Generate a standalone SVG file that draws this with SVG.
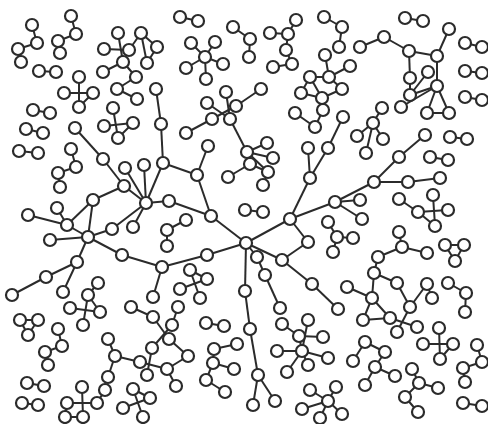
<svg xmlns="http://www.w3.org/2000/svg" width="488" height="424" viewBox="0 0 488 424">
<style>
.e line{stroke:#2b2b2b;stroke-width:2}
.n circle{fill:#fff;stroke:#2b2b2b;stroke-width:2.2}
</style>
<rect width="488" height="424" fill="#fff"/>
<g id="edges" class="e">
<line x1="32" y1="25" x2="37" y2="43"/><line x1="37" y1="43" x2="18" y2="49"/><line x1="18" y1="49" x2="21" y2="62"/>
<line x1="71" y1="16" x2="76" y2="34"/><line x1="76" y1="34" x2="58" y2="41"/><line x1="58" y1="41" x2="60" y2="53"/>
<line x1="39" y1="71" x2="56" y2="72"/>
<line x1="79" y1="77" x2="79" y2="107"/><line x1="64" y1="93" x2="93" y2="93"/><line x1="93" y1="93" x2="79" y2="107"/>
<line x1="33" y1="110" x2="50" y2="113"/><line x1="26" y1="129" x2="43" y2="133"/>
<line x1="118" y1="33" x2="123" y2="62"/><line x1="104" y1="49" x2="129" y2="50"/><line x1="129" y1="50" x2="141" y2="33"/><line x1="141" y1="33" x2="157" y2="47"/><line x1="141" y1="33" x2="147" y2="63"/><line x1="157" y1="47" x2="147" y2="63"/><line x1="123" y1="62" x2="103" y2="72"/><line x1="123" y1="62" x2="136" y2="77"/><line x1="136" y1="77" x2="117" y2="89"/><line x1="117" y1="89" x2="137" y2="99"/>
<line x1="113" y1="108" x2="118" y2="138"/><line x1="104" y1="126" x2="133" y2="123"/><line x1="133" y1="123" x2="118" y2="138"/>
<line x1="19" y1="151" x2="38" y2="153"/>
<line x1="71" y1="149" x2="76" y2="167"/><line x1="76" y1="167" x2="58" y2="173"/><line x1="58" y1="173" x2="60" y2="187"/>
<line x1="180" y1="17" x2="198" y2="21"/>
<line x1="205" y1="57" x2="191" y2="43"/><line x1="205" y1="57" x2="215" y2="42"/><line x1="205" y1="57" x2="223" y2="64"/><line x1="205" y1="57" x2="206" y2="79"/><line x1="205" y1="57" x2="186" y2="68"/>
<line x1="233" y1="27" x2="250" y2="39"/><line x1="250" y1="39" x2="249" y2="57"/>
<line x1="296" y1="20" x2="288" y2="34"/><line x1="270" y1="33" x2="288" y2="34"/><line x1="288" y1="34" x2="286" y2="50"/><line x1="286" y1="50" x2="292" y2="64"/><line x1="292" y1="64" x2="273" y2="67"/>
<line x1="324" y1="17" x2="342" y2="27"/><line x1="342" y1="27" x2="339" y2="47"/>
<line x1="360" y1="47" x2="384" y2="37"/><line x1="384" y1="37" x2="409" y2="51"/><line x1="409" y1="51" x2="437" y2="56"/><line x1="437" y1="56" x2="449" y2="29"/><line x1="409" y1="51" x2="410" y2="78"/><line x1="437" y1="56" x2="437" y2="86"/><line x1="410" y1="78" x2="410" y2="95"/><line x1="428" y1="72" x2="410" y2="95"/><line x1="410" y1="95" x2="437" y2="86"/><line x1="401" y1="107" x2="437" y2="86"/><line x1="437" y1="86" x2="427" y2="113"/><line x1="437" y1="86" x2="449" y2="113"/><line x1="427" y1="113" x2="449" y2="113"/>
<line x1="405" y1="18" x2="423" y2="21"/>
<line x1="465" y1="43" x2="482" y2="47"/><line x1="465" y1="71" x2="482" y2="73"/><line x1="465" y1="97" x2="482" y2="100"/><line x1="450" y1="137" x2="467" y2="139"/>
<line x1="382" y1="108" x2="373" y2="123"/><line x1="373" y1="123" x2="383" y2="139"/><line x1="373" y1="123" x2="357" y2="136"/><line x1="373" y1="123" x2="366" y2="153"/>
<line x1="325" y1="55" x2="329" y2="77"/><line x1="310" y1="77" x2="329" y2="77"/><line x1="329" y1="77" x2="350" y2="66"/><line x1="310" y1="77" x2="301" y2="93"/><line x1="310" y1="77" x2="322" y2="98"/><line x1="329" y1="77" x2="342" y2="89"/><line x1="301" y1="93" x2="322" y2="98"/><line x1="322" y1="98" x2="342" y2="89"/><line x1="322" y1="98" x2="323" y2="110"/><line x1="323" y1="110" x2="315" y2="127"/><line x1="315" y1="127" x2="295" y2="113"/>
<line x1="226" y1="92" x2="230" y2="119"/><line x1="207" y1="103" x2="230" y2="119"/><line x1="236" y1="106" x2="212" y2="119"/><line x1="212" y1="119" x2="186" y2="133"/><line x1="236" y1="106" x2="261" y2="89"/><line x1="230" y1="119" x2="247" y2="152"/>
<line x1="228" y1="177" x2="250" y2="164"/><line x1="247" y1="152" x2="267" y2="143"/><line x1="247" y1="152" x2="273" y2="158"/><line x1="250" y1="164" x2="268" y2="172"/><line x1="247" y1="152" x2="268" y2="172"/><line x1="268" y1="172" x2="263" y2="185"/>
<line x1="75" y1="128" x2="103" y2="159"/><line x1="103" y1="159" x2="124" y2="186"/><line x1="124" y1="186" x2="93" y2="200"/><line x1="93" y1="200" x2="67" y2="225"/><line x1="57" y1="208" x2="67" y2="225"/><line x1="28" y1="215" x2="67" y2="225"/><line x1="67" y1="225" x2="88" y2="237"/><line x1="93" y1="200" x2="88" y2="237"/><line x1="50" y1="240" x2="88" y2="237"/><line x1="88" y1="237" x2="112" y2="229"/><line x1="112" y1="229" x2="146" y2="203"/><line x1="88" y1="237" x2="122" y2="255"/><line x1="88" y1="237" x2="77" y2="262"/><line x1="77" y1="262" x2="46" y2="277"/><line x1="46" y1="277" x2="12" y2="295"/><line x1="77" y1="262" x2="63" y2="292"/>
<line x1="124" y1="186" x2="146" y2="203"/><line x1="125" y1="168" x2="146" y2="203"/><line x1="144" y1="165" x2="146" y2="203"/><line x1="146" y1="203" x2="169" y2="201"/><line x1="146" y1="203" x2="133" y2="227"/><line x1="146" y1="203" x2="163" y2="163"/><line x1="163" y1="163" x2="161" y2="124"/><line x1="161" y1="124" x2="156" y2="89"/><line x1="163" y1="163" x2="197" y2="175"/><line x1="197" y1="175" x2="208" y2="146"/><line x1="197" y1="175" x2="211" y2="216"/><line x1="169" y1="201" x2="211" y2="216"/><line x1="211" y1="216" x2="246" y2="243"/>
<line x1="122" y1="255" x2="162" y2="267"/><line x1="162" y1="267" x2="207" y2="255"/><line x1="207" y1="255" x2="246" y2="243"/><line x1="162" y1="267" x2="153" y2="297"/>
<line x1="246" y1="243" x2="290" y2="219"/><line x1="290" y1="219" x2="310" y2="178"/><line x1="310" y1="178" x2="308" y2="148"/><line x1="310" y1="178" x2="328" y2="148"/><line x1="328" y1="148" x2="343" y2="117"/><line x1="290" y1="219" x2="335" y2="202"/><line x1="335" y1="202" x2="360" y2="200"/><line x1="335" y1="202" x2="362" y2="219"/><line x1="335" y1="202" x2="374" y2="182"/><line x1="374" y1="182" x2="399" y2="157"/><line x1="399" y1="157" x2="425" y2="135"/><line x1="374" y1="182" x2="408" y2="182"/><line x1="408" y1="182" x2="440" y2="178"/>
<line x1="290" y1="219" x2="308" y2="242"/><line x1="308" y1="242" x2="282" y2="260"/><line x1="246" y1="243" x2="282" y2="260"/><line x1="282" y1="260" x2="312" y2="284"/><line x1="312" y1="284" x2="338" y2="309"/><line x1="246" y1="243" x2="257" y2="257"/><line x1="257" y1="257" x2="265" y2="275"/><line x1="265" y1="275" x2="280" y2="308"/><line x1="246" y1="243" x2="245" y2="291"/><line x1="245" y1="291" x2="250" y2="329"/><line x1="250" y1="329" x2="258" y2="375"/><line x1="258" y1="375" x2="253" y2="405"/><line x1="258" y1="375" x2="275" y2="401"/>
<line x1="245" y1="210" x2="263" y2="212"/>
<line x1="186" y1="220" x2="167" y2="230"/><line x1="167" y1="230" x2="167" y2="246"/>
<line x1="190" y1="270" x2="200" y2="298"/><line x1="180" y1="289" x2="207" y2="279"/><line x1="190" y1="270" x2="207" y2="279"/>
<line x1="328" y1="222" x2="337" y2="237"/><line x1="337" y1="237" x2="353" y2="238"/><line x1="337" y1="237" x2="333" y2="252"/>
<line x1="399" y1="199" x2="418" y2="212"/><line x1="418" y1="212" x2="435" y2="226"/><line x1="433" y1="195" x2="435" y2="226"/><line x1="418" y1="212" x2="448" y2="210"/>
<line x1="430" y1="157" x2="448" y2="160"/>
<line x1="399" y1="232" x2="402" y2="247"/><line x1="402" y1="247" x2="427" y2="253"/><line x1="402" y1="247" x2="378" y2="257"/><line x1="378" y1="257" x2="374" y2="273"/><line x1="374" y1="273" x2="397" y2="283"/><line x1="374" y1="273" x2="372" y2="298"/><line x1="372" y1="298" x2="363" y2="320"/><line x1="372" y1="298" x2="390" y2="318"/><line x1="363" y1="320" x2="390" y2="318"/><line x1="347" y1="287" x2="372" y2="298"/><line x1="397" y1="283" x2="410" y2="307"/><line x1="427" y1="284" x2="410" y2="307"/><line x1="432" y1="298" x2="427" y2="284"/><line x1="410" y1="307" x2="397" y2="332"/><line x1="390" y1="318" x2="417" y2="327"/>
<line x1="445" y1="245" x2="464" y2="245"/><line x1="464" y1="245" x2="455" y2="261"/><line x1="455" y1="261" x2="445" y2="245"/>
<line x1="448" y1="283" x2="466" y2="293"/><line x1="466" y1="293" x2="465" y2="312"/>
<line x1="439" y1="328" x2="440" y2="359"/><line x1="423" y1="344" x2="453" y2="344"/><line x1="453" y1="344" x2="440" y2="359"/>
<line x1="353" y1="361" x2="365" y2="342"/><line x1="365" y1="342" x2="385" y2="352"/><line x1="385" y1="352" x2="375" y2="367"/><line x1="375" y1="367" x2="395" y2="376"/><line x1="375" y1="367" x2="365" y2="385"/>
<line x1="412" y1="369" x2="419" y2="383"/><line x1="419" y1="383" x2="438" y2="388"/><line x1="419" y1="383" x2="405" y2="397"/><line x1="405" y1="397" x2="418" y2="412"/>
<line x1="477" y1="345" x2="482" y2="362"/><line x1="482" y1="362" x2="463" y2="368"/><line x1="463" y1="368" x2="465" y2="382"/>
<line x1="463" y1="403" x2="482" y2="406"/>
<line x1="302" y1="351" x2="277" y2="351"/><line x1="302" y1="351" x2="328" y2="358"/><line x1="302" y1="351" x2="287" y2="372"/><line x1="302" y1="351" x2="308" y2="365"/><line x1="302" y1="351" x2="299" y2="336"/><line x1="302" y1="351" x2="308" y2="320"/><line x1="299" y1="336" x2="282" y2="324"/><line x1="299" y1="336" x2="323" y2="337"/>
<line x1="310" y1="390" x2="328" y2="401"/><line x1="336" y1="387" x2="328" y2="401"/><line x1="302" y1="409" x2="328" y2="401"/><line x1="328" y1="401" x2="320" y2="418"/><line x1="328" y1="401" x2="342" y2="414"/>
<line x1="20" y1="320" x2="38" y2="320"/><line x1="38" y1="320" x2="28" y2="335"/><line x1="28" y1="335" x2="20" y2="320"/>
<line x1="58" y1="329" x2="62" y2="346"/><line x1="62" y1="346" x2="45" y2="352"/><line x1="45" y1="352" x2="48" y2="365"/>
<line x1="98" y1="283" x2="88" y2="295"/><line x1="88" y1="295" x2="83" y2="325"/><line x1="70" y1="308" x2="100" y2="312"/><line x1="88" y1="295" x2="100" y2="312"/>
<line x1="108" y1="339" x2="115" y2="356"/><line x1="115" y1="356" x2="108" y2="377"/><line x1="115" y1="356" x2="140" y2="362"/>
<line x1="131" y1="307" x2="153" y2="317"/><line x1="153" y1="317" x2="169" y2="339"/><line x1="178" y1="307" x2="172" y2="325"/><line x1="172" y1="325" x2="152" y2="348"/><line x1="169" y1="339" x2="188" y2="356"/><line x1="188" y1="356" x2="167" y2="369"/><line x1="140" y1="362" x2="167" y2="369"/><line x1="152" y1="348" x2="147" y2="375"/><line x1="167" y1="369" x2="176" y2="386"/>
<line x1="27" y1="383" x2="44" y2="386"/><line x1="22" y1="403" x2="38" y2="405"/>
<line x1="82" y1="387" x2="83" y2="417"/><line x1="67" y1="403" x2="97" y2="403"/><line x1="97" y1="403" x2="105" y2="390"/><line x1="67" y1="403" x2="65" y2="417"/><line x1="65" y1="417" x2="83" y2="417"/>
<line x1="133" y1="389" x2="143" y2="417"/><line x1="123" y1="408" x2="150" y2="398"/><line x1="133" y1="389" x2="150" y2="398"/>
<line x1="206" y1="323" x2="224" y2="326"/>
<line x1="237" y1="344" x2="214" y2="349"/><line x1="214" y1="349" x2="213" y2="363"/><line x1="213" y1="363" x2="234" y2="369"/><line x1="213" y1="363" x2="206" y2="380"/><line x1="206" y1="380" x2="225" y2="392"/>
</g>
<g id="nodes" class="n">
<g id="a1"><circle cx="32" cy="25" r="6"/></g><g id="a2"><circle cx="37" cy="43" r="6"/></g><g id="a3"><circle cx="18" cy="49" r="6"/></g><g id="a4"><circle cx="21" cy="62" r="6"/></g>
<g id="b1"><circle cx="71" cy="16" r="6"/></g><g id="b2"><circle cx="76" cy="34" r="6"/></g><g id="b3"><circle cx="58" cy="41" r="6"/></g><g id="b4"><circle cx="60" cy="53" r="6"/></g>
<g id="c1"><circle cx="39" cy="71" r="6"/></g><g id="c2"><circle cx="56" cy="72" r="6"/></g>
<g id="d1"><circle cx="79" cy="77" r="6"/></g><g id="d2"><circle cx="64" cy="93" r="6"/></g><g id="d3"><circle cx="93" cy="93" r="6"/></g><g id="d4"><circle cx="79" cy="107" r="6"/></g>
<g id="e1"><circle cx="33" cy="110" r="6"/></g><g id="e2"><circle cx="50" cy="113" r="6"/></g>
<g id="f1"><circle cx="26" cy="129" r="6"/></g><g id="f2"><circle cx="43" cy="133" r="6"/></g>
<g id="g1"><circle cx="118" cy="33" r="6"/></g><g id="g2"><circle cx="141" cy="33" r="6"/></g><g id="g3"><circle cx="104" cy="49" r="6"/></g><g id="g4"><circle cx="129" cy="50" r="6"/></g><g id="g5"><circle cx="157" cy="47" r="6"/></g><g id="g6"><circle cx="147" cy="63" r="6"/></g><g id="g7"><circle cx="123" cy="62" r="6"/></g><g id="g8"><circle cx="103" cy="72" r="6"/></g><g id="g9"><circle cx="136" cy="77" r="6"/></g><g id="g10"><circle cx="117" cy="89" r="6"/></g><g id="g11"><circle cx="137" cy="99" r="6"/></g>
<g id="g12"><circle cx="113" cy="108" r="6"/></g><g id="g13"><circle cx="104" cy="126" r="6"/></g><g id="g14"><circle cx="133" cy="123" r="6"/></g><g id="g15"><circle cx="118" cy="138" r="6"/></g>
<g id="h1"><circle cx="19" cy="151" r="6"/></g><g id="h2"><circle cx="38" cy="153" r="6"/></g>
<g id="h3"><circle cx="71" cy="149" r="6"/></g><g id="h4"><circle cx="76" cy="167" r="6"/></g><g id="h5"><circle cx="58" cy="173" r="6"/></g><g id="h6"><circle cx="60" cy="187" r="6"/></g>
<g id="i1"><circle cx="180" cy="17" r="6"/></g><g id="i2"><circle cx="198" cy="21" r="6"/></g>
<g id="i3"><circle cx="205" cy="57" r="6"/></g><g id="i4"><circle cx="191" cy="43" r="6"/></g><g id="i5"><circle cx="215" cy="42" r="6"/></g><g id="i6"><circle cx="223" cy="64" r="6"/></g><g id="i7"><circle cx="206" cy="79" r="6"/></g><g id="i8"><circle cx="186" cy="68" r="6"/></g>
<g id="j1"><circle cx="233" cy="27" r="6"/></g><g id="j2"><circle cx="250" cy="39" r="6"/></g><g id="j3"><circle cx="249" cy="57" r="6"/></g>
<g id="k1"><circle cx="296" cy="20" r="6"/></g><g id="k2"><circle cx="288" cy="34" r="6"/></g><g id="k3"><circle cx="270" cy="33" r="6"/></g><g id="k4"><circle cx="286" cy="50" r="6"/></g><g id="k5"><circle cx="292" cy="64" r="6"/></g><g id="k6"><circle cx="273" cy="67" r="6"/></g>
<g id="l1"><circle cx="324" cy="17" r="6"/></g><g id="l2"><circle cx="342" cy="27" r="6"/></g><g id="l3"><circle cx="339" cy="47" r="6"/></g>
<g id="m1"><circle cx="360" cy="47" r="6"/></g><g id="m2"><circle cx="384" cy="37" r="6"/></g><g id="m3"><circle cx="409" cy="51" r="6"/></g><g id="m4"><circle cx="437" cy="56" r="6"/></g><g id="m5"><circle cx="449" cy="29" r="6"/></g><g id="m6"><circle cx="410" cy="78" r="6"/></g><g id="m7"><circle cx="428" cy="72" r="6"/></g><g id="m8"><circle cx="437" cy="86" r="6"/></g><g id="m9"><circle cx="410" cy="95" r="6"/></g><g id="m10"><circle cx="401" cy="107" r="6"/></g><g id="m11"><circle cx="427" cy="113" r="6"/></g><g id="m12"><circle cx="449" cy="113" r="6"/></g>
<g id="n1"><circle cx="405" cy="18" r="6"/></g><g id="n2"><circle cx="423" cy="21" r="6"/></g>
<g id="n3"><circle cx="465" cy="43" r="6"/></g><g id="n4"><circle cx="482" cy="47" r="6"/></g><g id="n5"><circle cx="465" cy="71" r="6"/></g><g id="n6"><circle cx="482" cy="73" r="6"/></g><g id="n7"><circle cx="465" cy="97" r="6"/></g><g id="n8"><circle cx="482" cy="100" r="6"/></g><g id="n9"><circle cx="450" cy="137" r="6"/></g><g id="n10"><circle cx="467" cy="139" r="6"/></g>
<g id="o1"><circle cx="382" cy="108" r="6"/></g><g id="o2"><circle cx="373" cy="123" r="6"/></g><g id="o3"><circle cx="383" cy="139" r="6"/></g><g id="o4"><circle cx="357" cy="136" r="6"/></g><g id="o5"><circle cx="366" cy="153" r="6"/></g>
<g id="p1"><circle cx="325" cy="55" r="6"/></g><g id="p2"><circle cx="310" cy="77" r="6"/></g><g id="p3"><circle cx="329" cy="77" r="6"/></g><g id="p4"><circle cx="350" cy="66" r="6"/></g><g id="p5"><circle cx="301" cy="93" r="6"/></g><g id="p6"><circle cx="322" cy="98" r="6"/></g><g id="p7"><circle cx="342" cy="89" r="6"/></g><g id="p8"><circle cx="323" cy="110" r="6"/></g><g id="p9"><circle cx="315" cy="127" r="6"/></g><g id="p10"><circle cx="295" cy="113" r="6"/></g>
<g id="u1"><circle cx="226" cy="92" r="6"/></g><g id="u2"><circle cx="207" cy="103" r="6"/></g><g id="u3"><circle cx="236" cy="106" r="6"/></g><g id="u4"><circle cx="212" cy="119" r="6"/></g><g id="u5"><circle cx="230" cy="119" r="6"/></g><g id="u6"><circle cx="186" cy="133" r="6"/></g><g id="u7"><circle cx="261" cy="89" r="6"/></g>
<g id="s0"><circle cx="228" cy="177" r="6"/></g><g id="s1"><circle cx="247" cy="152" r="6"/></g><g id="s2"><circle cx="267" cy="143" r="6"/></g><g id="s3"><circle cx="273" cy="158" r="6"/></g><g id="s4"><circle cx="250" cy="164" r="6"/></g><g id="s5"><circle cx="268" cy="172" r="6"/></g><g id="s6"><circle cx="263" cy="185" r="6"/></g>
<g id="t1"><circle cx="75" cy="128" r="6"/></g><g id="t2"><circle cx="103" cy="159" r="6"/></g><g id="t3"><circle cx="124" cy="186" r="6"/></g><g id="t4"><circle cx="93" cy="200" r="6"/></g><g id="t5"><circle cx="67" cy="225" r="6"/></g><g id="t6"><circle cx="57" cy="208" r="6"/></g><g id="t7"><circle cx="28" cy="215" r="6"/></g><g id="t8"><circle cx="88" cy="237" r="6"/></g><g id="t9"><circle cx="50" cy="240" r="6"/></g><g id="t10"><circle cx="112" cy="229" r="6"/></g><g id="t11"><circle cx="122" cy="255" r="6"/></g><g id="t12"><circle cx="77" cy="262" r="6"/></g><g id="t13"><circle cx="46" cy="277" r="6"/></g><g id="t14"><circle cx="12" cy="295" r="6"/></g><g id="t15"><circle cx="63" cy="292" r="6"/></g>
<g id="t16"><circle cx="125" cy="168" r="6"/></g><g id="t17"><circle cx="144" cy="165" r="6"/></g><g id="t18"><circle cx="146" cy="203" r="6"/></g><g id="t19"><circle cx="169" cy="201" r="6"/></g><g id="t20"><circle cx="133" cy="227" r="6"/></g><g id="t21"><circle cx="163" cy="163" r="6"/></g><g id="t22"><circle cx="161" cy="124" r="6"/></g><g id="t23"><circle cx="156" cy="89" r="6"/></g><g id="t24"><circle cx="197" cy="175" r="6"/></g><g id="t25"><circle cx="208" cy="146" r="6"/></g><g id="t26"><circle cx="211" cy="216" r="6"/></g><g id="t27"><circle cx="246" cy="243" r="6"/></g><g id="t28"><circle cx="162" cy="267" r="6"/></g><g id="t29"><circle cx="207" cy="255" r="6"/></g><g id="t30"><circle cx="153" cy="297" r="6"/></g>
<g id="t31"><circle cx="290" cy="219" r="6"/></g><g id="t32"><circle cx="310" cy="178" r="6"/></g><g id="t33"><circle cx="308" cy="148" r="6"/></g><g id="t34"><circle cx="328" cy="148" r="6"/></g><g id="t35"><circle cx="343" cy="117" r="6"/></g><g id="t36"><circle cx="335" cy="202" r="6"/></g><g id="t37"><circle cx="360" cy="200" r="6"/></g><g id="t38"><circle cx="362" cy="219" r="6"/></g><g id="t39"><circle cx="374" cy="182" r="6"/></g><g id="t40"><circle cx="399" cy="157" r="6"/></g><g id="t41"><circle cx="425" cy="135" r="6"/></g><g id="t42"><circle cx="408" cy="182" r="6"/></g><g id="t43"><circle cx="440" cy="178" r="6"/></g><g id="t44"><circle cx="308" cy="242" r="6"/></g><g id="t45"><circle cx="282" cy="260" r="6"/></g><g id="t46"><circle cx="312" cy="284" r="6"/></g><g id="t47"><circle cx="338" cy="309" r="6"/></g><g id="t48"><circle cx="257" cy="257" r="6"/></g><g id="t49"><circle cx="265" cy="275" r="6"/></g><g id="t50"><circle cx="280" cy="308" r="6"/></g><g id="t51"><circle cx="245" cy="291" r="6"/></g><g id="t52"><circle cx="250" cy="329" r="6"/></g><g id="t53"><circle cx="258" cy="375" r="6"/></g><g id="t54"><circle cx="253" cy="405" r="6"/></g><g id="t55"><circle cx="275" cy="401" r="6"/></g>
<g id="v1"><circle cx="245" cy="210" r="6"/></g><g id="v2"><circle cx="263" cy="212" r="6"/></g>
<g id="v3"><circle cx="186" cy="220" r="6"/></g><g id="v4"><circle cx="167" cy="230" r="6"/></g><g id="v5"><circle cx="167" cy="246" r="6"/></g>
<g id="x1"><circle cx="190" cy="270" r="6"/></g><g id="x2"><circle cx="180" cy="289" r="6"/></g><g id="x3"><circle cx="207" cy="279" r="6"/></g><g id="x4"><circle cx="200" cy="298" r="6"/></g>
<g id="x5"><circle cx="328" cy="222" r="6"/></g><g id="x6"><circle cx="337" cy="237" r="6"/></g><g id="x7"><circle cx="353" cy="238" r="6"/></g><g id="x8"><circle cx="333" cy="252" r="6"/></g>
<g id="y1"><circle cx="399" cy="199" r="6"/></g><g id="y2"><circle cx="418" cy="212" r="6"/></g><g id="y3"><circle cx="433" cy="195" r="6"/></g><g id="y4"><circle cx="448" cy="210" r="6"/></g><g id="y5"><circle cx="435" cy="226" r="6"/></g>
<g id="y6"><circle cx="430" cy="157" r="6"/></g><g id="y7"><circle cx="448" cy="160" r="6"/></g>
<g id="r1"><circle cx="399" cy="232" r="6"/></g><g id="r2"><circle cx="402" cy="247" r="6"/></g><g id="r3"><circle cx="427" cy="253" r="6"/></g><g id="r4"><circle cx="378" cy="257" r="6"/></g><g id="r5"><circle cx="374" cy="273" r="6"/></g><g id="r6"><circle cx="397" cy="283" r="6"/></g><g id="r7"><circle cx="372" cy="298" r="6"/></g><g id="r8"><circle cx="363" cy="320" r="6"/></g><g id="r9"><circle cx="390" cy="318" r="6"/></g><g id="r10"><circle cx="347" cy="287" r="6"/></g><g id="r11"><circle cx="410" cy="307" r="6"/></g><g id="r12"><circle cx="427" cy="284" r="6"/></g><g id="r13"><circle cx="432" cy="298" r="6"/></g><g id="r14"><circle cx="397" cy="332" r="6"/></g><g id="r15"><circle cx="417" cy="327" r="6"/></g>
<g id="r16"><circle cx="445" cy="245" r="6"/></g><g id="r17"><circle cx="464" cy="245" r="6"/></g><g id="r18"><circle cx="455" cy="261" r="6"/></g>
<g id="r19"><circle cx="448" cy="283" r="6"/></g><g id="r20"><circle cx="466" cy="293" r="6"/></g><g id="r21"><circle cx="465" cy="312" r="6"/></g>
<g id="r22"><circle cx="439" cy="328" r="6"/></g><g id="r23"><circle cx="423" cy="344" r="6"/></g><g id="r24"><circle cx="453" cy="344" r="6"/></g><g id="r25"><circle cx="440" cy="359" r="6"/></g>
<g id="q1"><circle cx="353" cy="361" r="6"/></g><g id="q2"><circle cx="365" cy="342" r="6"/></g><g id="q3"><circle cx="385" cy="352" r="6"/></g><g id="q4"><circle cx="375" cy="367" r="6"/></g><g id="q5"><circle cx="395" cy="376" r="6"/></g><g id="q6"><circle cx="365" cy="385" r="6"/></g>
<g id="q7"><circle cx="412" cy="369" r="6"/></g><g id="q8"><circle cx="419" cy="383" r="6"/></g><g id="q9"><circle cx="438" cy="388" r="6"/></g><g id="q10"><circle cx="405" cy="397" r="6"/></g><g id="q11"><circle cx="418" cy="412" r="6"/></g>
<g id="q12"><circle cx="477" cy="345" r="6"/></g><g id="q13"><circle cx="482" cy="362" r="6"/></g><g id="q14"><circle cx="463" cy="368" r="6"/></g><g id="q15"><circle cx="465" cy="382" r="6"/></g>
<g id="q16"><circle cx="463" cy="403" r="6"/></g><g id="q17"><circle cx="482" cy="406" r="6"/></g>
<g id="z1"><circle cx="282" cy="324" r="6"/></g><g id="z2"><circle cx="308" cy="320" r="6"/></g><g id="z3"><circle cx="299" cy="336" r="6"/></g><g id="z4"><circle cx="323" cy="337" r="6"/></g><g id="z5"><circle cx="277" cy="351" r="6"/></g><g id="z6"><circle cx="302" cy="351" r="6"/></g><g id="z7"><circle cx="328" cy="358" r="6"/></g><g id="z8"><circle cx="287" cy="372" r="6"/></g><g id="z9"><circle cx="308" cy="365" r="6"/></g>
<g id="z10"><circle cx="310" cy="390" r="6"/></g><g id="z11"><circle cx="336" cy="387" r="6"/></g><g id="z12"><circle cx="328" cy="401" r="6"/></g><g id="z13"><circle cx="302" cy="409" r="6"/></g><g id="z14"><circle cx="320" cy="418" r="6"/></g><g id="z15"><circle cx="342" cy="414" r="6"/></g>
<g id="w1"><circle cx="20" cy="320" r="6"/></g><g id="w2"><circle cx="38" cy="320" r="6"/></g><g id="w3"><circle cx="28" cy="335" r="6"/></g>
<g id="w4"><circle cx="58" cy="329" r="6"/></g><g id="w5"><circle cx="62" cy="346" r="6"/></g><g id="w6"><circle cx="45" cy="352" r="6"/></g><g id="w7"><circle cx="48" cy="365" r="6"/></g>
<g id="w8"><circle cx="98" cy="283" r="6"/></g><g id="w9"><circle cx="88" cy="295" r="6"/></g><g id="w10"><circle cx="70" cy="308" r="6"/></g><g id="w11"><circle cx="100" cy="312" r="6"/></g><g id="w12"><circle cx="83" cy="325" r="6"/></g>
<g id="w13"><circle cx="108" cy="339" r="6"/></g><g id="w14"><circle cx="115" cy="356" r="6"/></g><g id="w15"><circle cx="108" cy="377" r="6"/></g>
<g id="w16"><circle cx="131" cy="307" r="6"/></g><g id="w17"><circle cx="153" cy="317" r="6"/></g><g id="w18"><circle cx="178" cy="307" r="6"/></g><g id="w19"><circle cx="172" cy="325" r="6"/></g><g id="w20"><circle cx="169" cy="339" r="6"/></g><g id="w21"><circle cx="152" cy="348" r="6"/></g><g id="w22"><circle cx="188" cy="356" r="6"/></g><g id="w23"><circle cx="140" cy="362" r="6"/></g><g id="w24"><circle cx="147" cy="375" r="6"/></g><g id="w25"><circle cx="167" cy="369" r="6"/></g><g id="w26"><circle cx="176" cy="386" r="6"/></g>
<g id="w27"><circle cx="27" cy="383" r="6"/></g><g id="w28"><circle cx="44" cy="386" r="6"/></g><g id="w29"><circle cx="22" cy="403" r="6"/></g><g id="w30"><circle cx="38" cy="405" r="6"/></g>
<g id="w31"><circle cx="82" cy="387" r="6"/></g><g id="w32"><circle cx="67" cy="403" r="6"/></g><g id="w33"><circle cx="97" cy="403" r="6"/></g><g id="w34"><circle cx="83" cy="417" r="6"/></g><g id="w35"><circle cx="65" cy="417" r="6"/></g><g id="w36"><circle cx="105" cy="390" r="6"/></g>
<g id="w37"><circle cx="133" cy="389" r="6"/></g><g id="w38"><circle cx="150" cy="398" r="6"/></g><g id="w39"><circle cx="123" cy="408" r="6"/></g><g id="w40"><circle cx="143" cy="417" r="6"/></g>
<g id="w41"><circle cx="206" cy="323" r="6"/></g><g id="w42"><circle cx="224" cy="326" r="6"/></g>
<g id="w43"><circle cx="237" cy="344" r="6"/></g><g id="w44"><circle cx="214" cy="349" r="6"/></g><g id="w45"><circle cx="213" cy="363" r="6"/></g><g id="w46"><circle cx="234" cy="369" r="6"/></g><g id="w47"><circle cx="206" cy="380" r="6"/></g><g id="w48"><circle cx="225" cy="392" r="6"/></g>
</g>
</svg>
